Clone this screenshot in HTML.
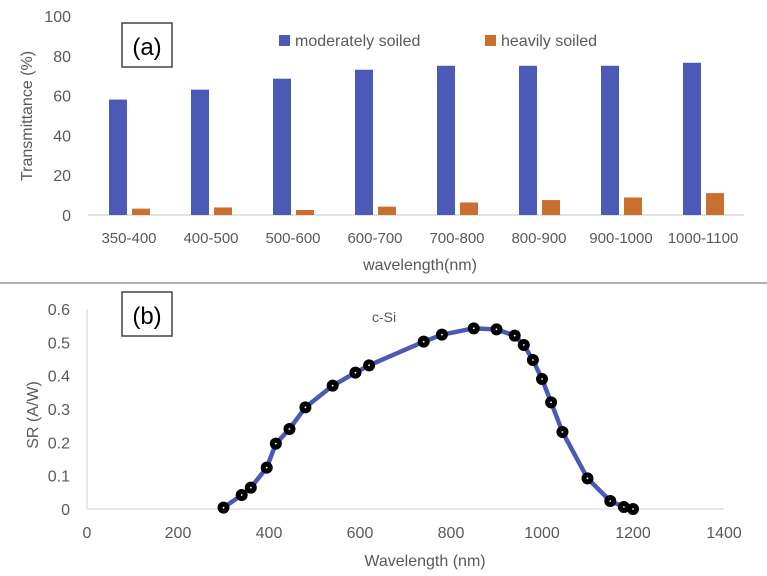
<!DOCTYPE html>
<html><head><meta charset="utf-8"><style>
html,body{margin:0;padding:0;background:#fff;}
svg{display:block;font-family:"Liberation Sans",sans-serif;}
</style></head><body>
<svg id="fig" width="767" height="576" viewBox="0 0 767 576">
</svg>
<script>
const categories=["350-400","400-500","500-600","600-700","700-800","800-900","900-1000","1000-1100"];
const moderate=[58,63,68.5,73,75,75,75,76.5];
const heavy=[3.2,3.8,2.5,4.2,6.3,7.5,8.8,11];
const yTicksA=[0,20,40,60,80,100];
const wl=[300,340,360,395,415,445,480,540,590,620,740,780,850,900,940,960,980,1000,1020,1045,1100,1150,1180,1200];
const sr=[0.004,0.042,0.064,0.124,0.196,0.24,0.305,0.37,0.409,0.431,0.502,0.523,0.542,0.539,0.52,0.492,0.447,0.39,0.32,0.231,0.092,0.024,0.006,0.0];
const xTicksB=[0,200,400,600,800,1000,1200,1400];
const yTicksB=[0,0.1,0.2,0.3,0.4,0.5,0.6];

const NS="http://www.w3.org/2000/svg";
const svg=document.getElementById('fig');
function mk(tag,attrs,text){const e=document.createElementNS(NS,tag);for(const k in attrs)e.setAttribute(k,attrs[k]);if(text!==undefined)e.textContent=text;svg.appendChild(e);return e;}

// Chart A
const aX0=88,aX1=744,aY0=215,aY100=16;
const ya=v=>aY0+(aY100-aY0)*v/100;
const bw=(aX1-aX0)/categories.length;
yTicksA.forEach(t=>{
  const e=mk('text',{x:71,y:ya(t)+6,'text-anchor':'end','font-size':16,fill:'#595959'},t);
  
  
});
let g=mk('line',{x1:aX0,y1:aY0,x2:aX1,y2:aY0,stroke:'#d9d9d9','stroke-width':1.5});

categories.forEach((c,i)=>{
  const cx=aX0+bw*(i+0.5);
  let b=mk('rect',{x:cx-20,y:ya(moderate[i]),width:18,height:aY0-ya(moderate[i]),fill:'#4a5ab6'});
  
  
  let h=mk('rect',{x:cx+3,y:ya(heavy[i]),width:18,height:aY0-ya(heavy[i]),fill:'#c96f30'});
  
  
  let t=mk('text',{x:cx,y:243,'text-anchor':'middle','font-size':15,fill:'#595959'},c);
  
  
});
</script>
<script>
(function(){
const NS="http://www.w3.org/2000/svg";const svg=document.getElementById('fig');
function mk(tag,attrs,text){const e=document.createElementNS(NS,tag);for(const k in attrs)e.setAttribute(k,attrs[k]);if(text!==undefined)e.textContent=text;svg.appendChild(e);return e;}
let e;
e=mk('text',{x:0,y:0,transform:'translate(32,116) rotate(-90)','text-anchor':'middle','font-size':16,fill:'#595959'},'Transmittance (%)');

e=mk('text',{x:420,y:270,'text-anchor':'middle','font-size':16,fill:'#595959'},'wavelength(nm)');

e=mk('rect',{x:122,y:23,width:50,height:44,fill:'#fff',stroke:'#444','stroke-width':1.5});

e=mk('text',{x:147,y:55,'text-anchor':'middle','font-size':24,fill:'#000'},'(a)');

e=mk('rect',{x:279,y:35,width:11,height:11,fill:'#4a5ab6'});

e=mk('text',{x:295,y:46,'font-size':16,fill:'#595959'},'moderately soiled');

e=mk('rect',{x:485,y:35,width:11,height:11,fill:'#c96f30'});

e=mk('text',{x:501,y:46,'font-size':16,fill:'#595959'},'heavily soiled');

e=mk('line',{x1:0,y1:283,x2:767,y2:283,stroke:'#666','stroke-width':1});


// Chart B
const bX0=87,bX1=724,bY0=509,bY6=309;
const xb=v=>bX0+(bX1-bX0)*v/1400;
const yb=v=>bY0+(bY6-bY0)*v/0.6;
e=mk('line',{x1:bX0,y1:bY6,x2:bX0,y2:bY0,stroke:'#d9d9d9','stroke-width':1.2});

e=mk('line',{x1:bX0,y1:bY0,x2:bX1,y2:bY0,stroke:'#d9d9d9','stroke-width':1.2});

yTicksB.forEach(t=>{
  const el=mk('text',{x:70,y:yb(t)+6,'text-anchor':'end','font-size':16,fill:'#595959'},t===0?'0':t.toFixed(1));
  
  
});
xTicksB.forEach(t=>{
  const el=mk('text',{x:xb(t),y:538,'text-anchor':'middle','font-size':16,fill:'#595959'},t);
  
  
});
e=mk('text',{x:0,y:0,transform:'translate(38,415) rotate(-90)','text-anchor':'middle','font-size':16,fill:'#595959'},'SR (A/W)');

e=mk('text',{x:425,y:566,'text-anchor':'middle','font-size':16,fill:'#595959'},'Wavelength (nm)');

e=mk('rect',{x:122,y:292,width:50,height:44,fill:'#fff',stroke:'#444','stroke-width':1.5});

e=mk('text',{x:147,y:324,'text-anchor':'middle','font-size':24,fill:'#000'},'(b)');

e=mk('text',{x:384,y:322,'text-anchor':'middle','font-size':14,fill:'#595959'},'c-Si');

const pts=wl.map((w,i)=>xb(w)+','+yb(sr[i])).join(' ');
e=mk('polyline',{points:pts,fill:'none',stroke:'#4a5ab6','stroke-width':4.5,'stroke-linejoin':'round'});

wl.forEach((w,i)=>{
  const c=mk('circle',{cx:xb(w),cy:yb(sr[i]),r:6,fill:'#000'});
  
  
  const d=mk('circle',{cx:xb(w),cy:yb(sr[i]),r:0.9,fill:'#fff'});
  
  
});
})();
</script>
</body></html>
